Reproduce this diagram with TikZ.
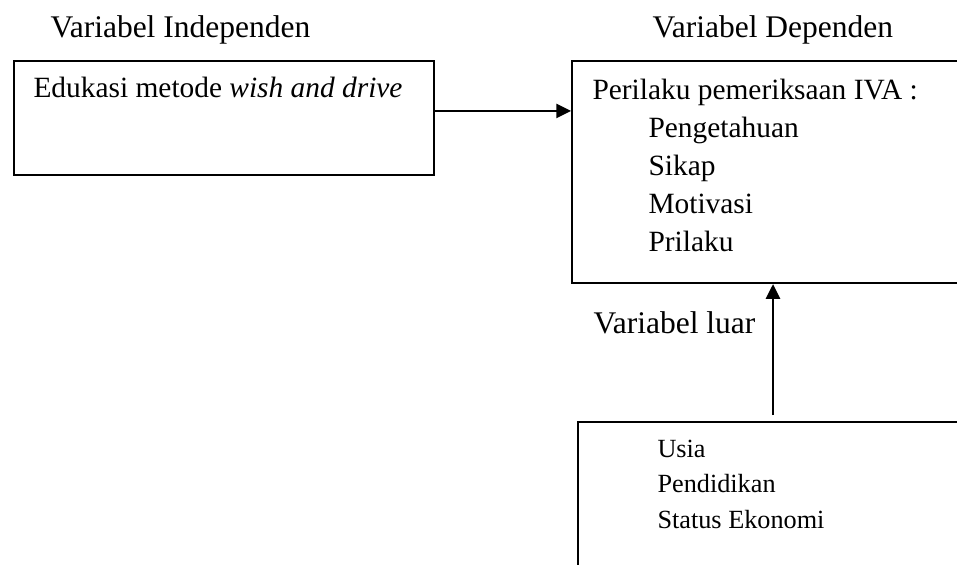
\documentclass[tikz,border=0pt]{standalone}
\usepackage{fontspec}
\setmainfont{Liberation Serif}
\usepackage{tikz}
\usetikzlibrary{arrows.meta,positioning}

\tikzset{
  kotak/.style={draw,line width=0.8pt,anchor=north west,inner sep=0pt},
  teks/.style={anchor=base west,inner sep=0pt,font=\fontsize{12}{14}\selectfont},
  teksisi/.style={anchor=base west,inner sep=0pt,font=\fontsize{11.2}{13}\selectfont},
  teksk/.style={anchor=base west,inner sep=0pt,font=\fontsize{10}{12}\selectfont},
  panah/.style={line width=0.8pt,-{Triangle[length=5.6pt,width=5.4pt]}}
}

\begin{document}
\begin{tikzpicture}[x=0.381pt,y=-0.381pt]
\useasboundingbox (0,0) rectangle (957,564);
\clip (0,0) rectangle (957,564);

% kotak variabel
\node[kotak,minimum width=160pt,minimum height=43.4pt] (edukasi) at (13,60) {};
\node[kotak,minimum width=163.4pt,minimum height=84.6pt] (perilaku) at (571,60) {};
\node[kotak,minimum width=161.2pt,minimum height=75.8pt] (faktor) at (577,421) {};

% judul
\node[teks] (indep) at (50,37) {Variabel Independen};
\node[teks] (dep) at (652,37) {Variabel Dependen};
\node[teks] (luar) at (593,333) {Variabel luar};

% isi kotak
\node[teksisi] (edukasiteks) at (33,97) {Edukasi metode \textit{wish and drive}};
\node[teksisi] (perilakuteks) at (592,99) {Perilaku pemeriksaan IVA :};
\foreach \t [count=\i] in {Pengetahuan,Sikap,Motivasi,Prilaku}
  \node[teksisi] (dep\i) at (648,99+38*\i) {\t};
\foreach \t [count=\i] in {Usia,Pendidikan,Status Ekonomi}
  \node[teksk] (luar\i) at (657,421+36+35.5*\i-35.5) {\t};

% panah
\coordinate (luarawal) at (773,415);
\draw[panah] ([yshift=2.7pt]edukasi.east) -- ([yshift=2.7pt]edukasi.east -| perilaku.west);
\draw[panah] (luarawal) -- (luarawal |- perilaku.south);
\end{tikzpicture}
\end{document}
